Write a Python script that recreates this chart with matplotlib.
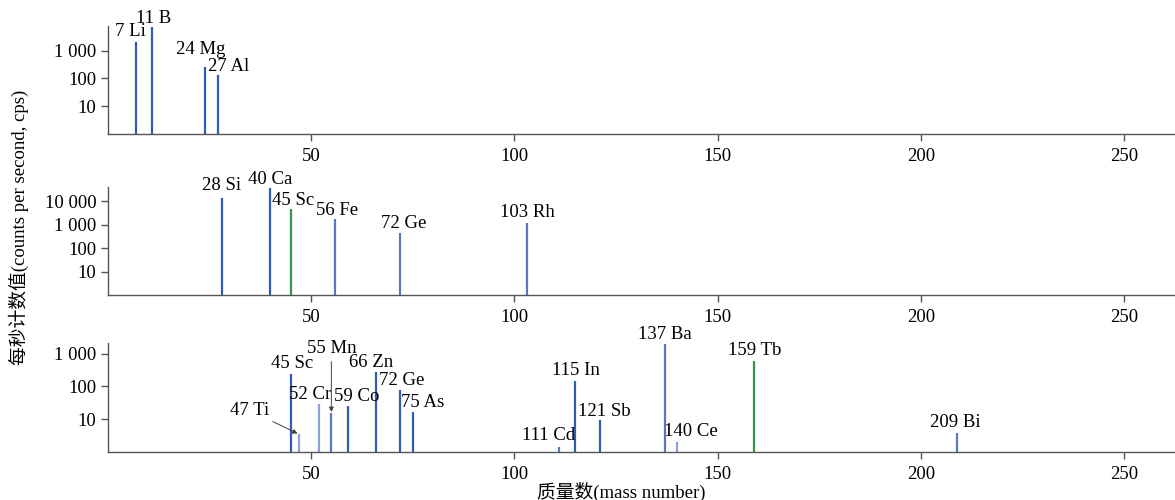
import matplotlib.pyplot as plt
from matplotlib.ticker import FixedLocator, NullLocator

plt.rcParams["font.family"] = ["Liberation Serif", "Noto Sans CJK SC"]

# --- data: mass number, counts per second, element label ---
p1_mass = [7, 11, 24, 27]
p1_cps = [2000, 7000, 260, 135]
p1_elem = ["Li", "B", "Mg", "Al"]

p2_mass = [28, 40, 45, 56, 72, 103]
p2_cps = [13000, 38000, 4600, 1800, 420, 1200]
p2_elem = ["Si", "Ca", "Sc", "Fe", "Ge", "Rh"]

p3_mass = [45, 47, 52, 55, 59, 66, 72, 75, 111, 115, 121, 137, 140, 159, 209]
p3_cps = [240, 3.5, 29, 15, 26, 270, 79, 17, 1.4, 142, 9.5, 2000, 2.0, 600, 3.8]
p3_elem = ["Sc", "Ti", "Cr", "Mn", "Co", "Zn", "Ge", "As", "Cd", "In", "Sb", "Ba", "Ce", "Tb", "Bi"]

# --- style / layout (kept apart from the data) ---
BLUE = "#2f5cb8"
LIGHT = "#8fa2d6"
MID = "#5877c4"
GREEN = "#2f9a45"
SPINE = "#555555"

p1_color = [BLUE, BLUE, BLUE, BLUE]
p2_color = [BLUE, BLUE, GREEN, MID, MID, MID]
p3_color = [BLUE, LIGHT, LIGHT, MID, BLUE, BLUE, BLUE, BLUE, MID, BLUE, BLUE, MID, LIGHT, GREEN, MID]

# label offsets in pixels (dx, dy) from the peak top; None -> arrow label
p1_off = [(-6, 2), (1, 0), (-5, 9), (11, 0)]
p2_off = [(0, 4), (0, 0), (2, 0), (2, 0), (3, 1), (1, 2)]
p3_off = [(1, 2), None, (-9, 1), None, (9, 1), (-5, 1), (1, 1), (10, 1),
          (-10, 3), (1, 2), (5, 0), (0, 1), (14, 2), (0, 2), (-2, 2)]
p3_arrow = {"Ti": ((-30, 24), "right", "center"), "Mn": ((0, 56), "center", "bottom")}

FS = 13.5
XMAX = 262.5

fig = plt.figure(figsize=(11.75, 5), dpi=100)

panels = [
    (p1_mass, p1_cps, p1_elem, p1_color, p1_off, 7600, [10, 100, 1000], [0.0917, 0.732, 0.9083, 0.216]),
    (p2_mass, p2_cps, p2_elem, p2_color, p2_off, 40000, [10, 100, 1000, 10000], [0.0917, 0.41, 0.9083, 0.216]),
    (p3_mass, p3_cps, p3_elem, p3_color, p3_off, 2100, [10, 100, 1000], [0.0917, 0.096, 0.9083, 0.218]),
]


def fmt_num(v):
    return f"{int(v):,}".replace(",", " ")


for mass, cps, elem, colors, offs, ytop, yticks, rect in panels:
    ax = fig.add_axes(rect)
    ax.set_yscale("log")
    ax.set_xlim(0, XMAX)
    ax.set_ylim(1, ytop)
    ax.vlines(mass, 1, cps, colors=colors, linewidth=1.6)

    ax.yaxis.set_major_locator(FixedLocator(yticks))
    ax.yaxis.set_minor_locator(NullLocator())
    ax.set_yticklabels([fmt_num(v) for v in yticks])
    ax.set_xticks([50, 100, 150, 200, 250])
    ax.tick_params(labelsize=FS, color=SPINE, length=5, width=1, pad=3)
    ax.tick_params(axis="x", pad=5)
    for s in ["top", "right"]:
        ax.spines[s].set_visible(False)
    for s in ["left", "bottom"]:
        ax.spines[s].set_color(SPINE)
        ax.spines[s].set_linewidth(1)

    for m, c, e, off in zip(mass, cps, elem, offs):
        label = f"{m} {e}"
        if off is None:
            (dx, dy), ha, va = p3_arrow[e]
            ax.annotate(label, xy=(m, c), xytext=(dx, dy), textcoords="offset pixels",
                        ha=ha, va=va, fontsize=FS,
                        arrowprops=dict(arrowstyle="-|>", color="#444444", lw=0.7,
                                        mutation_scale=7, shrinkA=1, shrinkB=1))
        else:
            ax.annotate(label, xy=(m, c), xytext=off, textcoords="offset pixels",
                        ha="center", va="bottom", fontsize=FS)

fig.text(0.016, 0.545, "每秒计数值(counts per second, cps)", rotation=90,
         ha="center", va="center", fontsize=FS)
fig.text(0.529, 0.016, "质量数(mass number)", ha="center", va="center", fontsize=FS)

fig.savefig("out.png", dpi=100)
